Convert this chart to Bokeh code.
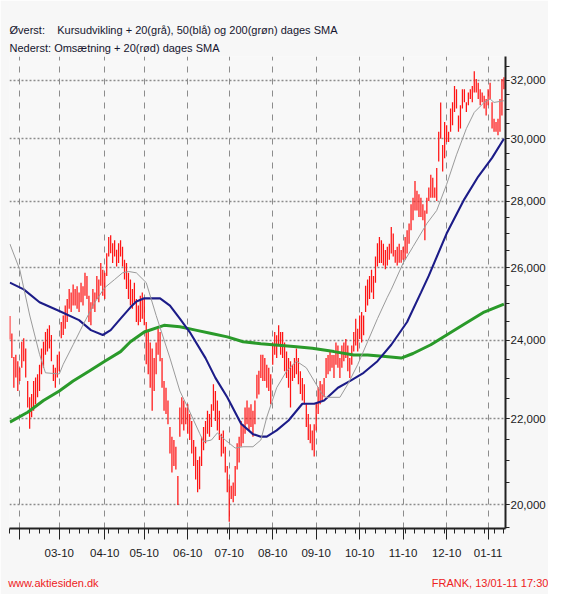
from bokeh.plotting import figure
from bokeh.models import (Range1d, FixedTicker, NumeralTickFormatter, ColumnDataSource,
                          Title, LinearAxis)
from bokeh.embed import file_html
from bokeh.resources import INLINE

# ---------------- data (trading-day index 0 = 25 Jan 2010 ... 250 = 13 Jan 2011) ----------------
highs = [24650, 24180, 23560, 23620, 23450, 23280, 23960, 24050, 23780, 22940,
         22530, 22610, 22940, 23030, 23110, 23360, 23780, 23960, 24220, 24310,
         24400, 24140, 23360, 23280, 23620, 23700, 24490, 24670, 24940, 25120,
         25400, 25300, 25530, 25400, 25480, 25300, 25580, 25480, 25860, 25770,
         25210, 25030, 25400, 25300, 25770, 25670, 26140, 25950, 25860, 26430,
         26910, 26960, 26720, 26810, 26530, 26720, 26810, 26620, 26240, 26140,
         25860, 25670, 25400, 25580, 25120, 24940, 25210, 25300, 25120, 24490,
         24220, 23940, 23780, 23530, 23940, 24310, 24220, 23530, 22940, 22770,
         22450, 21800, 21570, 21490, 21330, 20650, 22280, 22530, 22450, 22280,
         22360, 22120, 21950, 21490, 21330, 21020, 21100, 21570, 21800, 21950,
         22200, 22120, 22360, 22860, 22690, 22450, 22200, 21640, 21720, 21330,
         20880, 20570, 20430, 20500, 20880, 21410, 21570, 21950, 21870, 22280,
         22450, 22280, 22360, 22200, 22450, 23100, 23200, 23620, 23620, 23530,
         23360, 23280, 23110, 23940, 24220, 24130, 24400, 24220, 24220, 23940,
         23700, 23530, 23450, 23360, 23530, 23780, 23530, 23190, 23020, 22860,
         22360, 22120, 21870, 21720, 21870, 22360, 22780, 22940, 22860, 23020,
         23530, 23610, 23700, 23610, 23610, 23940, 23860, 23530, 23860, 23940,
         24030, 23860, 23530, 23860, 24220, 24580, 24310, 24670, 24760, 24670,
         25490, 25670, 25770, 25950, 25770, 26330, 26720, 26910, 26810, 26710,
         26520, 26620, 26710, 27210, 27010, 26520, 26620, 26710, 26520, 26620,
         26910, 27110, 27310, 27900, 28100, 28630, 28320, 28210, 28100, 27900,
         27710, 28100, 28420, 28830, 28730, 28420, 29040, 30230, 31230, 29790,
         30560, 30450, 30230, 31020, 31240, 31800, 31690, 30780, 31130, 31690,
         31690, 31240, 31580, 31690, 31800, 32330, 32050, 31920, 31690, 31580,
         31460, 31350, 31690, 31920, 31240, 30670, 30560, 30670, 31350, 32050,
         32110]
lows = [24020, 23530, 22770, 23030, 22690, 22940, 23280, 23450, 23030, 22280,
        21760, 22040, 22200, 22360, 22530, 22690, 23110, 23280, 23620, 23700,
        23780, 23450, 22940, 22770, 23030, 23190, 24050, 24140, 24310, 24490,
        24850, 24760, 24940, 24940, 24850, 24760, 25030, 24940, 25210, 25120,
        24490, 24400, 24850, 24760, 25120, 25030, 25490, 25210, 25120, 25770,
        26330, 26430, 26140, 26330, 26040, 26140, 26330, 26040, 25670, 25400,
        25120, 24940, 24850, 25030, 24490, 24400, 24490, 24580, 24400, 23370,
        23110, 22770, 22200, 22690, 23110, 23620, 23450, 22770, 22200, 22120,
        21870, 21170, 20730, 20880, 20800, 20000, 21570, 21870, 21720, 21870,
        21640, 21490, 21170, 20880, 20570, 20280, 20350, 20880, 21250, 21410,
        21640, 21570, 21800, 22200, 21950, 21720, 21490, 21100, 21170, 20730,
        20280, 19630, 20130, 20060, 20200, 20800, 20960, 21330, 21410, 21640,
        21870, 21720, 21800, 21570, 21870, 22500, 22600, 23020, 22940, 22940,
        22770, 22690, 22360, 23360, 23620, 23530, 23860, 23620, 23530, 23190,
        23020, 22770, 22280, 22940, 23020, 23110, 22860, 22610, 22450, 22360,
        21800, 21490, 21410, 21250, 21100, 21720, 22120, 22360, 22450, 22530,
        23020, 23110, 23190, 23280, 23020, 23360, 23280, 23020, 23280, 23450,
        23530, 23190, 23020, 23360, 23700, 23860, 23700, 24030, 23940, 24130,
        24760, 24940, 25120, 25300, 25120, 25580, 26040, 26140, 26140, 26070,
        25960, 26070, 26240, 26420, 26330, 26150, 26070, 26150, 26150, 26240,
        26240, 26420, 26710, 27110, 27410, 27710, 27710, 27510, 27510, 27410,
        26810, 27610, 28000, 28100, 28100, 28100, 28000, 29250, 30000, 28930,
        29360, 29890, 29890, 30230, 30450, 30900, 31020, 30230, 30340, 31020,
        31240, 30900, 31130, 31350, 31240, 31580, 31580, 31350, 31130, 31240,
        31020, 30780, 31130, 31350, 30340, 30230, 30230, 30120, 30230, 30780,
        31690]
days = list(range(len(highs)))

# 20-day SMA (grey)
sma20_idx = [0, 5, 10, 15, 18, 25, 27, 32, 37, 43, 48, 53, 57, 60, 64, 69, 74, 81, 86, 90,
             96, 98, 102, 105, 109, 114, 118, 123, 127, 130, 135, 140, 145, 150, 154, 158,
             160, 167, 171, 176, 181, 186, 191, 193, 199, 204, 211, 216, 221, 226, 231,
             235, 240, 243, 245, 250]
sma20_val = [26700, 25950, 24680, 23630, 23150, 23120, 23370, 23880, 24410, 25030, 25440,
             25670, 25860, 25900, 25860, 25580, 24670, 23530, 22690, 22280, 21650, 21450,
             21490, 21660, 21490, 21300, 21330, 21330, 21490, 22040, 22770, 23190, 23450,
             23280, 22940, 22610, 22530, 22530, 22860, 23360, 23960, 24580, 25170, 25390,
             26140, 26620, 27310, 27710, 28520, 29470, 30340, 30890, 31230, 31350, 31230,
             31290]

# 50-day SMA (blue)
sma50_idx = [0, 7, 15, 25, 35, 41, 47, 51, 56, 61, 64, 68, 76, 81, 86, 91, 99, 104, 110,
             117, 123, 127, 130, 135, 141, 148, 154, 159, 166, 172, 179, 186, 193, 201,
             208, 212, 221, 230, 237, 244, 250]
sma50_val = [25580, 25390, 25030, 24790, 24540, 24270, 24140, 24270, 24580, 24890, 25050,
             25140, 25140, 24940, 24580, 24220, 23530, 23020, 22530, 21880, 21630, 21570,
             21570, 21720, 21960, 22370, 22370, 22450, 22770, 22940, 23150, 23450, 23880,
             24490, 25300, 25780, 27010, 28060, 28770, 29370, 30000]

# 200-day SMA (green)
sma200_idx = [0, 9, 17, 25, 32, 40, 48, 56, 61, 68, 78, 86, 94, 102, 110, 118, 127, 133,
              145, 153, 164, 174, 181, 190, 198, 204, 213, 221, 229, 240, 250]
sma200_val = [21920, 22160, 22450, 22690, 22940, 23190, 23450, 23700, 23960, 24220, 24400,
              24360, 24270, 24180, 24090, 23960, 23910, 23880, 23830, 23790, 23700, 23610,
              23610, 23570, 23530, 23650, 23880, 24140, 24400, 24760, 24980]

month_idx = [5, 25, 48, 68, 90, 111, 133, 155, 177, 199, 221, 242]
month_labels = ["", "03-10", "04-10", "05-10", "06-10", "07-10", "08-10", "09-10",
                "10-10", "11-10", "12-10", "01-11"]
week_idx = list(range(0, 251, 5))
price_ticks = [20000, 22000, 24000, 26000, 28000, 30000, 32000]
price_minor = list(range(19500, 33001, 500))

title_line1 = "Øverst:\u00a0\u00a0\u00a0 Kursudvikling + 20(grå), 50(blå) og 200(grøn) dages SMA"
title_line2 = "Nederst: Omsætning + 20(rød) dages SMA"
footer_left = "www.aktiesiden.dk"
footer_right = "FRANK, 13/01-11 17:30"

# ---------------- figure ----------------
FONT = "Liberation Sans"
INK = "#1a1a1a"

p = figure(frame_width=496, frame_height=472, output_backend="svg", toolbar_location=None,
           y_axis_type="log", y_axis_location="right",
           x_range=Range1d(-0.2, 250.8), y_range=Range1d(19484, 32860),
           min_border_left=9, min_border_top=56, min_border_bottom=66, min_border_right=42,
           background_fill_color="#f8f8f8", border_fill_color="#f7f7f7",
           outline_line_color=None)

src = ColumnDataSource(dict(i=days, high=highs, low=lows))
p.segment(x0="i", y0="low", x1="i", y1="high", source=src, line_color="#ff1414", line_width=1.25)

p.line(sma200_idx, sma200_val, line_color="#2a9a2a", line_width=3)
p.line(sma50_idx, sma50_val, line_color="#1c1c88", line_width=2.1)
p.line(sma20_idx, sma20_val, line_color="#9a9a9a", line_width=1)

# bottom axis (months)
xax = p.xaxis[0]
xax.ticker = FixedTicker(ticks=month_idx, minor_ticks=week_idx)
xax.major_label_overrides = {m: lab for m, lab in zip(month_idx, month_labels)}
xax.major_tick_out = 11
xax.major_tick_in = 0
xax.minor_tick_out = 5
xax.minor_tick_in = 0
xax.axis_line_width = 2
xax.axis_line_color = "#222222"
xax.major_tick_line_color = "#222222"
xax.minor_tick_line_color = "#222222"
xax.major_label_text_font = FONT
xax.major_label_text_font_size = "11.5px"
xax.major_label_text_color = INK
xax.major_label_standoff = 9

# footer row (an unstyled axis carrying the two footer texts)
foot = LinearAxis(ticker=FixedTicker(ticks=[22, 243]),
                  major_label_overrides={22: footer_left, 243: footer_right})
foot.axis_line_color = None
foot.major_tick_line_color = None
foot.minor_tick_line_color = None
foot.major_tick_out = 0
foot.major_tick_in = 0
foot.major_label_standoff = 17
foot.major_label_text_font = FONT
foot.major_label_text_font_size = "11px"
foot.major_label_text_color = "#ee2222"
p.add_layout(foot, "below")

# right axis (prices)
yax = p.yaxis[0]
yax.ticker = FixedTicker(ticks=price_ticks, minor_ticks=price_minor)
yax.formatter = NumeralTickFormatter(format="0,0")
yax.major_tick_out = 4
yax.major_tick_in = 0
yax.minor_tick_out = 4
yax.minor_tick_in = 0
yax.axis_line_width = 2
yax.axis_line_color = "#222222"
yax.major_tick_line_color = "#222222"
yax.minor_tick_line_color = "#222222"
yax.major_label_text_font = FONT
yax.major_label_text_font_size = "11.5px"
yax.major_label_text_color = INK
yax.major_label_standoff = 1

# grids
p.xgrid.ticker = FixedTicker(ticks=month_idx)
p.xgrid.grid_line_color = "#8c8c8c"
p.xgrid.grid_line_dash = "6 6"
p.xgrid.grid_line_width = 1
p.ygrid.ticker = FixedTicker(ticks=price_ticks)
p.ygrid.grid_line_color = "#8c8c8c"
p.ygrid.grid_line_dash = "2 2"
p.ygrid.grid_line_width = 1.3

# titles (added nearest-first)
TC = "#15152e"
p.add_layout(Title(text=title_line2, align="left", standoff=6, text_font=FONT,
                   text_font_size="11px", text_font_style="normal", text_color=TC), "above")
p.add_layout(Title(text=title_line1, align="left", standoff=1, text_font=FONT,
                   text_font_size="11px", text_font_style="normal", text_color=TC), "above")

open("out.html", "w").write(file_html(p, INLINE))
